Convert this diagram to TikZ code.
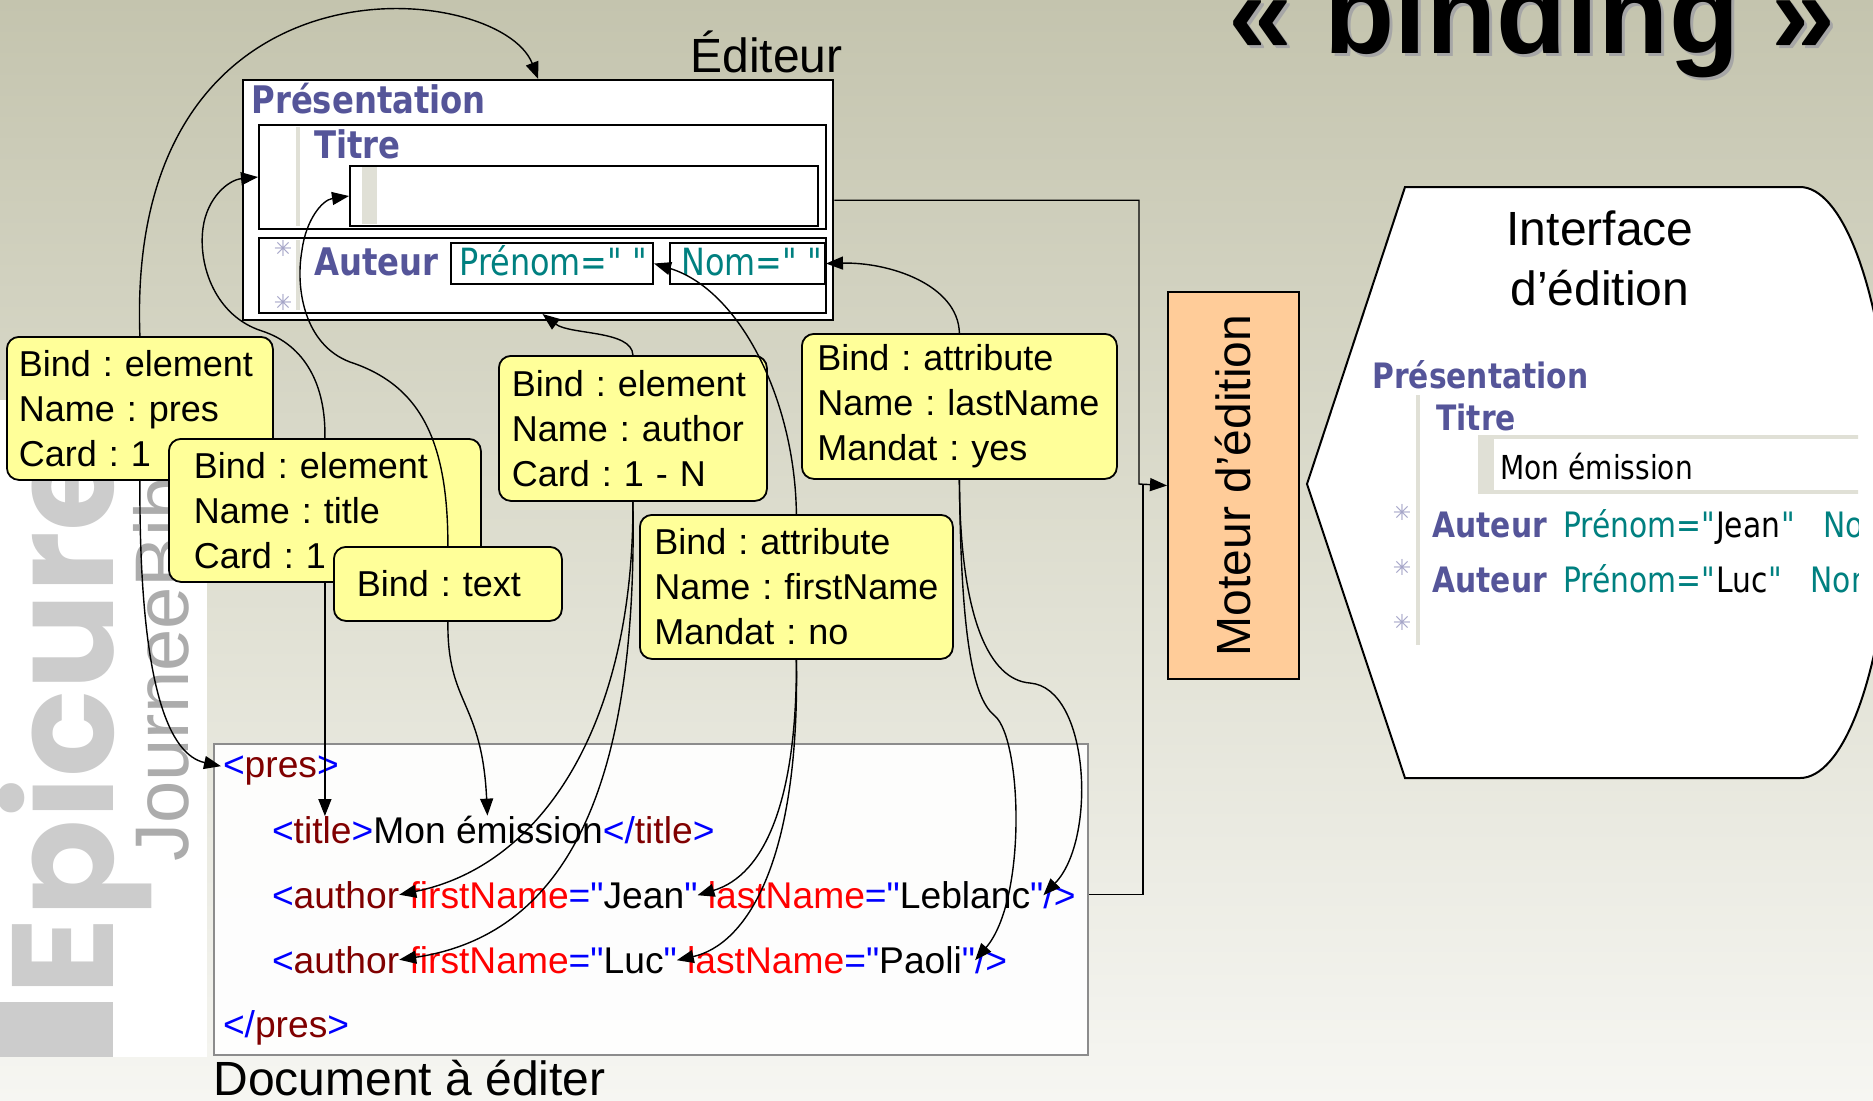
\documentclass[tikz,border=0pt]{standalone}
\usepackage{fontspec}
\setmainfont{Liberation Sans}
\newfontfamily\xmlfont{Liberation Sans}
\newfontfamily\pixfont{DejaVu Sans}[FakeStretch=0.85]
\newfontfamily\symfont{DejaVu Sans}
\newfontfamily\wmfont{Poppins}
\usetikzlibrary{arrows.meta,calc}
\definecolor{bgtop}{RGB}{196,196,174}
\definecolor{bgmid}{RGB}{222,222,208}
\definecolor{bgbot}{RGB}{246,246,242}
\definecolor{ybox}{RGB}{255,255,153}
\definecolor{peach}{RGB}{255,204,153}
\definecolor{purp}{RGB}{85,85,153}
\definecolor{teal2}{RGB}{0,128,128}
\definecolor{dkred}{RGB}{128,0,0}
\definecolor{xblue}{RGB}{0,0,255}
\definecolor{xred}{RGB}{255,0,0}
\definecolor{pale}{RGB}{224,224,214}
\definecolor{astc}{RGB}{165,165,200}
\definecolor{xgray}{RGB}{140,140,140}
\definecolor{wm1}{RGB}{204,204,204}
\definecolor{wm2}{RGB}{172,172,172}
\begin{document}
\begin{tikzpicture}[x=0.5pt,y=-0.5pt,
  ybox/.style={draw=black, fill=ybox, rounded corners=6pt, line width=0.9pt, anchor=north west, align=left, inner ysep=0pt, font=\frenchspacing\fontsize{18pt}{22.5pt}\selectfont},
  xt/.style={inner sep=0pt, outer sep=0pt, anchor=base west, font=\xmlfont\fontsize{18.6pt}{22pt}\selectfont},
  lbl/.style={inner sep=0pt, anchor=base west, font=\fontsize{24pt}{28pt}\selectfont},
  edbox/.style={draw=black, fill=white, line width=1pt, anchor=north west, inner sep=0pt},
  pxb/.style={inner sep=0pt, anchor=base west, text=purp, font=\pixfont\bfseries\fontsize{19pt}{22pt}\selectfont},
  pxt/.style={inner sep=0pt, anchor=base west, text=teal2, font=\pixfont\fontsize{18.75pt}{22pt}\selectfont},
  ipb/.style={inner sep=0pt, anchor=base west, text=purp, font=\pixfont\bfseries\fontsize{17.5pt}{20pt}\selectfont},
  ipt/.style={inner sep=0pt, anchor=base west, text=teal2, font=\pixfont\fontsize{17.5pt}{20pt}\selectfont},
  ipk/.style={inner sep=0pt, anchor=base west, text=black, font=\pixfont\fontsize{17.5pt}{20pt}\selectfont},
  ast/.style={text=astc, inner sep=0pt, font=\symfont\fontsize{11pt}{11pt}\selectfont},
  arr/.style={-{Triangle[length=8.5pt,width=6.5pt]}, line width=0.7pt}]

\useasboundingbox (0,0) rectangle (1873,1100);
\shade[top color=bgtop, bottom color=bgbot, middle color=bgmid] (0,0) rectangle (1873,1100);

% watermark strip
\begin{scope}
  \clip (0,400) rectangle (207,1057);
  \fill[white] (0,400) rectangle (207,1057);
  \fill[wm1] (0,1002) rectangle (113,1057);
  \node[rotate=90, anchor=base west, inner sep=0pt, text=wm1, font=\wmfont\bfseries\fontsize{72pt}{80pt}\selectfont] (wmE) at (113,996) {Epicure};
  \node[rotate=90, anchor=base west, inner sep=0pt, text=wm2, font=\fontsize{38pt}{44pt}\selectfont] (wmJ) at (188,862) {JourneeBib};
\end{scope}

% title
\node[anchor=base west, inner sep=0pt, text=black!35, font=\bfseries\fontsize{57.5pt}{60pt}\selectfont] (ttlsh) at (1231,56) {«~binding~»};
\node[anchor=base west, inner sep=0pt, font=\bfseries\fontsize{57.5pt}{60pt}\selectfont] (ttlm) at (1228,53) {«~binding~»};

% editor
\node[lbl] (edl) at (690,72) {Éditeur};
\node[edbox, line width=1.2pt, minimum width=295pt, minimum height=120pt] (ed) at (242,79) {};
\node[edbox, minimum width=283.5pt, minimum height=52pt] (secT) at (258,124) {};
\node[edbox, minimum width=283.5pt, minimum height=37.5pt] (secA) at (258,237) {};
\draw[pale, line width=2pt] (298,127) -- (298,226) (298,240) -- (298,310);
\node[edbox, minimum width=234pt, minimum height=30pt] (fld) at (349,165) {};
\fill[pale] (362,167) rectangle (377,224);
\node[pxb] (edP) at (251,113) {Présentation};
\node[pxb] (edT) at (314,158) {Titre};
\node[pxb] (edA) at (314,275) {Auteur};
\node[edbox, minimum width=101pt, minimum height=20.5pt] (prn) at (450,242) {};
\node[pxt] (prnt) at (459,275) {Prénom=" "};
\node[edbox, minimum width=77.5pt, minimum height=20.5pt] (nom) at (669,242) {};
\node[pxt] (nomt) at (681,275) {Nom=" "};
\node[ast] (as1) at (283,248) {✳};
\node[ast] (as2) at (283,302) {✳};

% moteur
\node[draw=black, fill=peach, line width=1pt, anchor=north west, minimum width=65.5pt, minimum height=193.5pt, inner sep=0pt] (mot) at (1167,291) {};
\node[rotate=90, font=\fontsize{24pt}{28pt}\selectfont] (motl) at (mot.center) {Moteur d’édition};

% interface
\draw[fill=white, line width=1pt] (1405,187) -- (1800,187) .. controls (1840,187) and (1885,280) .. (1895,484) .. controls (1885,688) and (1840,778) .. (1800,778) -- (1405,778) -- (1307,484) -- cycle;
\node[lbl, anchor=base] (if1) at (1600,245) {Interface};
\node[lbl, anchor=base] (if2) at (1600,305) {d’édition};
\begin{scope}
  \clip (1300,180) rectangle (1858,800);
  \node[ipb] (iP) at (1372,388) {Présentation};
  \draw[pale, line width=2pt] (1418,395) -- (1418,645);
  \node[ipb] (iT) at (1436,430) {Titre};
  \draw[pale, line width=2pt, fill=white] (1480,437) rectangle (1890,492);
  \fill[pale] (1480,437) rectangle (1494,492);
  \node[ipk, font=\pixfont\fontsize{16.5pt}{20pt}\selectfont] (iM) at (1500,479) {Mon émission};
  \node[ast] (ia1) at (1402,512) {✳};
  \node[ast] (ia2) at (1402,567) {✳};
  \node[ast] (ia3) at (1402,622) {✳};
  \node[ipb] (iA1) at (1432,537) {Auteur};
  \node[ipt] (ip1) at (1563,537) {Prénom="};
  \node[ipk] (iv1) at (ip1.base east) {Jean};
  \node[ipt] (iq1) at (iv1.base east) {"};
  \node[ipt] (in1) at ([xshift=14pt]iq1.base east) {Nom="Leblanc"};
  \node[ipb] (iA2) at (1432,592) {Auteur};
  \node[ipt] (ip2) at (1563,592) {Prénom="};
  \node[ipk] (iv2) at (ip2.base east) {Luc};
  \node[ipt] (iq2) at (iv2.base east) {"};
  \node[ipt] (in2) at ([xshift=14pt]iq2.base east) {Nom="Paoli"};
\end{scope}

% XML document
\node[draw=xgray, fill=white, fill opacity=0.92, line width=1pt, anchor=north west, minimum width=437pt, minimum height=155.5pt, inner sep=0pt] (xml) at (213,743) {};
\node[lbl] (docl) at (213,1095) {Document à éditer};

\node[xt, text=xblue] (p1lt) at (223,777) {<};
\node[xt, text=dkred] (p1n) at (p1lt.base east) {pres};
\node[xt, text=xblue] (p1gt) at (p1n.base east) {>};

\node[xt, text=xblue] (t2a) at (272,843) {<};
\node[xt, text=dkred] (ttl) at (t2a.base east) {title};
\node[xt, text=xblue] (t2b) at (ttl.base east) {>};
\node[xt] (mon) at (t2b.base east) {Mon};
\node[xt] (em) at ([xshift=5.17pt]mon.base east) {émission};
\node[xt, text=xblue] (t2c) at (em.base east) {</};
\node[xt, text=dkred] (t2d) at (t2c.base east) {title};
\node[xt, text=xblue] (t2e) at (t2d.base east) {>};

\node[xt, text=xblue] (l3a) at (272,908) {<};
\node[xt, text=dkred] (a3) at (l3a.base east) {author};
\node[xt, text=xred] (f3) at ([xshift=5.17pt]a3.base east) {firstName};
\node[xt, text=xblue] (fe3) at (f3.base east) {="};
\node[xt] (v3) at (fe3.base east) {Jean};
\node[xt, text=xblue] (jq3) at (v3.base east) {"};
\node[xt, text=xred] (n3) at ([xshift=5.17pt]jq3.base east) {lastName};
\node[xt, text=xblue] (ne3) at (n3.base east) {="};
\node[xt] (w3) at (ne3.base east) {Leblanc};
\node[xt, text=xblue] (lq3) at (w3.base east) {"};
\node[xt, text=xblue] (e3) at (lq3.base east) {/>};

\node[xt, text=xblue] (l4a) at (272,973) {<};
\node[xt, text=dkred] (a4) at (l4a.base east) {author};
\node[xt, text=xred] (f4) at ([xshift=5.17pt]a4.base east) {firstName};
\node[xt, text=xblue] (fe4) at (f4.base east) {="};
\node[xt] (v4) at (fe4.base east) {Luc};
\node[xt, text=xblue] (jq4) at (v4.base east) {"};
\node[xt, text=xred] (n4) at ([xshift=5.17pt]jq4.base east) {lastName};
\node[xt, text=xblue] (ne4) at (n4.base east) {="};
\node[xt] (w4) at (ne4.base east) {Paoli};
\node[xt, text=xblue] (lq4) at (w4.base east) {"};
\node[xt, text=xblue] (e4) at (lq4.base east) {/>};

\node[xt, text=xblue] (p5a) at (223,1037) {</};
\node[xt, text=dkred] (p5n) at (p5a.base east) {pres};
\node[xt, text=xblue] (p5b) at (p5n.base east) {>};

% yellow boxes
\node[ybox, minimum height=71.5pt, text width=121pt, inner xsep=6pt] (bpres) at (6,336) {\mbox{Bind : element}\\\mbox{Name : pres}\\\mbox{Card : 1}};
\node[ybox, minimum height=71.5pt, text width=131pt, inner xsep=12.5pt] (btitle) at (168,438) {\mbox{Bind : element}\\\mbox{Name : title}\\\mbox{Card : 1}};
\node[ybox, minimum height=37pt, text width=91pt, inner xsep=11.5pt] (btext) at (333,546) {\mbox{Bind : text}};
\node[ybox, minimum height=72.5pt, text width=121pt, inner xsep=6.5pt] (bauth) at (498,355) {\mbox{Bind : element}\\\mbox{Name : author}\\\mbox{Card : 1 - N}};
\node[ybox, minimum height=72.5pt, text width=142pt, inner xsep=7.75pt] (blast) at (801,333) {\mbox{Bind : attribute}\\\mbox{Name : lastName}\\\mbox{Mandat : yes}};
\node[ybox, minimum height=72pt, text width=142pt, inner xsep=7.25pt] (bfirst) at (639,514) {\mbox{Bind : attribute}\\\mbox{Name : firstName}\\\mbox{Mandat : no}};

% connectors
\coordinate (j1) at (1139,484);
\coordinate (j2) at (1143,484);
\draw[arr] (ed.east) -| (j1) -- (mot.west);
\draw[line width=0.7pt] (xml.east |- e3.east) -| (j2);

\draw[arr] (bpres.north) .. controls (125,-60) and (500,-20) .. (ed.north);
\draw[arr] (bpres.south) .. controls (139,690) and (170,755) .. ([xshift=-1pt]p1lt.west);
\draw[arr] (btitle.north) .. controls (326,385) and (305,345) .. (262,331) .. controls (215,316) and (198,265) .. (203,228) .. controls (207,198) and (228,180) .. (secT.west);
\draw[arr] (btext.north) .. controls (448,440) and (420,385) .. (350,362) .. controls (305,345) and (295,290) .. (302,250) .. controls (306,220) and (322,200) .. (fld.west);
\draw[arr] (btext.south) .. controls (447,705) and (482,700) .. ([xshift=-21pt]em.north);
\draw[arr] (btitle.south) -- (btitle.south |- ttl.north);
\draw[arr] (bauth.north) .. controls (632,330) and (570,335) .. (secA.south);
\draw[arr] (bauth.south) .. controls (634,720) and (545,865) .. (a3.east);
\draw[arr] (bauth.south) .. controls (638,790) and (565,935) .. (a4.east);
\draw[arr] (bfirst.north) .. controls (795,400) and (740,290) .. (prn.east);
\draw[arr] (bfirst.south) .. controls (797,800) and (765,875) .. (jq3.east);
\draw[arr] (bfirst.south) .. controls (800,865) and (745,945) .. (jq4.east);
\draw[arr] (blast.north) .. controls (958,285) and (890,262) .. (nom.east);
\draw[arr] (blast.south) .. controls (960,620) and (990,680) .. (1030,683) .. controls (1090,688) and (1097,840) .. (lq3.east);
\draw[arr] (blast.south) .. controls (961,650) and (975,700) .. (995,716) .. controls (1022,740) and (1027,900) .. (lq4.east);
\end{tikzpicture}
\end{document}
